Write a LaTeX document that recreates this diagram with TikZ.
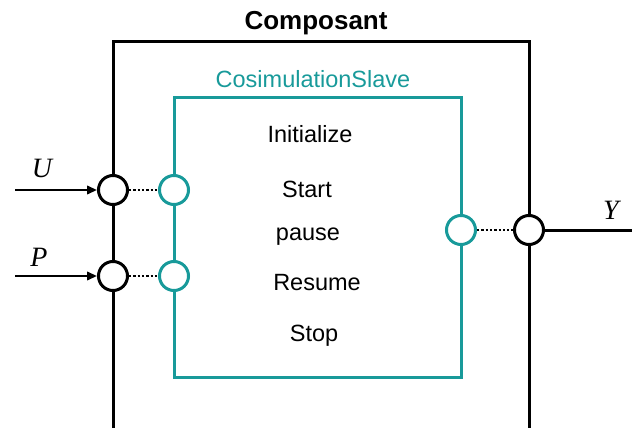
\documentclass[tikz,border=0pt]{standalone}
\usepackage{fontspec}
\setmainfont{Liberation Sans}
\newfontfamily\mathserif{Liberation Serif}
\usetikzlibrary{arrows.meta}
\definecolor{teal1}{RGB}{24,154,154}
\begin{document}
\begin{tikzpicture}[x=1pt,y=-1pt,
  port/.style={circle,draw=black,fill=white,line width=3pt,minimum size=29pt,inner sep=0pt},
  tport/.style={port,draw=teal1},
  lbl/.style={font=\fontsize{23.5}{26}\selectfont,inner sep=0pt,anchor=base},
  var/.style={font=\fontsize{28}{30}\mathserif\itshape,inner sep=0pt},
  dots/.style={dotted,line width=2.3pt},
  inarrow/.style={line width=2.2pt,-{Triangle[length=10pt,width=8.5pt]}}]
\useasboundingbox (0,0) rectangle (632,428);
% outer frame
\coordinate (obl) at (113,428);
\coordinate (otl) at (113,42);
\coordinate (otr) at (529,42);
\coordinate (obr) at (529,428);
\draw[line width=3pt] (obl) -- (otl) -- (otr) -- (obr);
\node[font=\fontsize{26}{30}\selectfont\bfseries,inner sep=0pt] (title) at (316,23) {Composant};
% inner box
\coordinate (itl) at (174,97);
\coordinate (ibr) at (461,377);
\draw[teal1,line width=3pt] (itl) rectangle (ibr);
\node[lbl,text=teal1,anchor=center] (slave) at (313,79) {CosimulationSlave};
% ports
\node[port] (pu) at (113,190) {};
\node[port] (pp) at (113,276) {};
\node[tport] (tu) at (174,190) {};
\node[tport] (tp) at (174,276) {};
\node[tport] (ty) at (461,230) {};
\node[port] (py) at (529,230) {};
% dotted links
\draw[dots] (pu) -- (tu);
\draw[dots] (pp) -- (tp);
\draw[dots] (ty) -- (py);
% inputs / outputs
\coordinate (us) at (15,190);
\coordinate (ps) at (15,276);
\coordinate (ye) at (632,230);
\draw[inarrow] (us) -- (pu);
\draw[inarrow] (ps) -- (pp);
\draw[line width=3pt] (py) -- (ye);
\node[var] (U) at (42,168) {U};
\node[var] (P) at (39,257) {P};
\node[var] (Y) at (611,210) {Y};
% methods
\node[lbl] (init) at (310,142) {Initialize};
\node[lbl] (start) at (307,197) {Start};
\node[lbl] (pause) at (308,240) {pause};
\node[lbl] (resume) at (317,290) {Resume};
\node[lbl] (stop) at (314,341) {Stop};
\end{tikzpicture}
\end{document}
